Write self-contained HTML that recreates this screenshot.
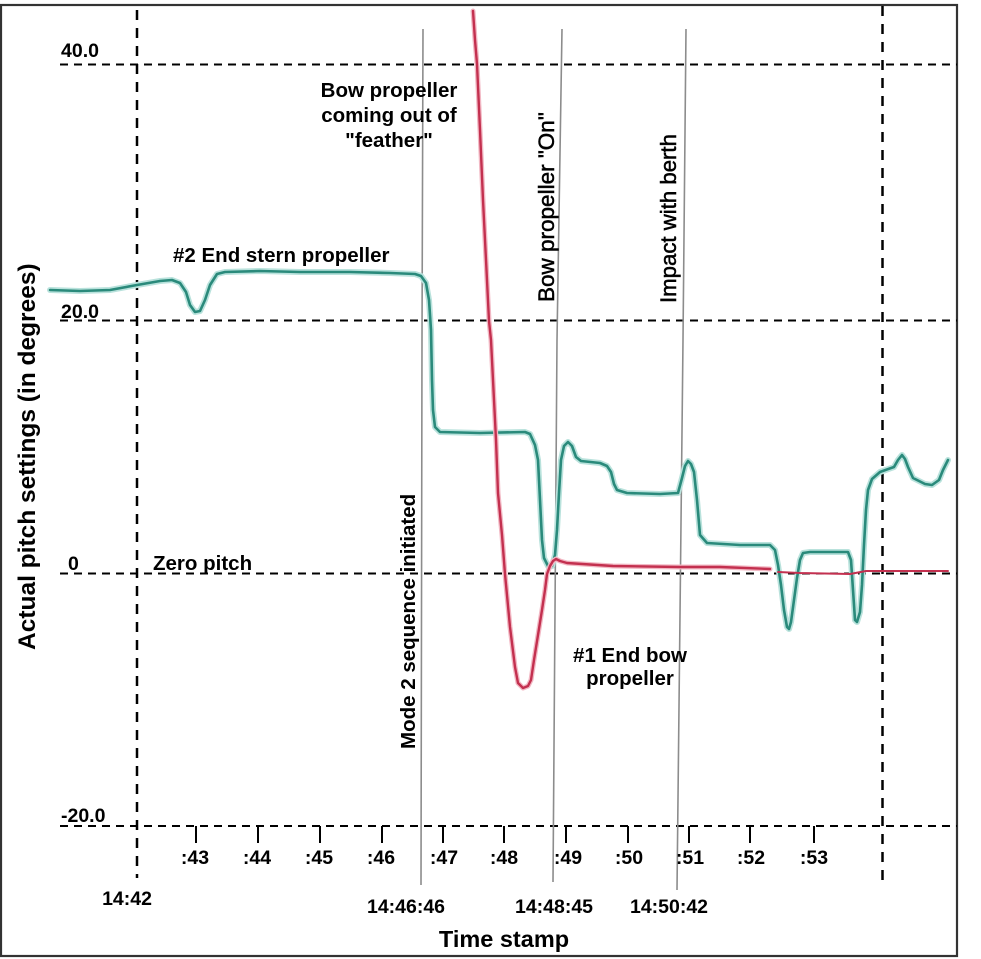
<!DOCTYPE html>
<html>
<head>
<meta charset="utf-8">
<style>
  html, body { margin:0; padding:0; background:#fff; }
  svg { display:block; }
  text { font-family: "Liberation Sans", Arial, sans-serif; fill:#000; }
  .b { font-weight:bold; }
</style>
</head>
<body>
<svg width="981" height="959" viewBox="0 0 981 959" xmlns="http://www.w3.org/2000/svg">
  <rect x="0" y="0" width="981" height="959" fill="#fff"/>
  <!-- border -->
  <rect x="1" y="5" width="956" height="951" fill="none" stroke="#333" stroke-width="2.2"/>

  <!-- horizontal dashed grid -->
  <g stroke="#000" stroke-width="2" stroke-dasharray="8 6" fill="none">
    <line x1="60" y1="64.5" x2="957" y2="64.5"/>
    <line x1="60" y1="320.5" x2="957" y2="320.5"/>
    <line x1="60" y1="573.5" x2="957" y2="573.5"/>
    <line x1="60" y1="826" x2="957" y2="826"/>
  </g>
  <!-- vertical dashed -->
  <g stroke="#000" stroke-width="2.5" stroke-dasharray="10 8" fill="none">
    <line x1="137" y1="10" x2="137" y2="878"/>
    <line x1="882.5" y1="6" x2="882.5" y2="888"/>
  </g>

  <!-- ticks -->
  <g stroke="#000" stroke-width="2">
    <line x1="196" y1="826" x2="196" y2="843"/>
    <line x1="258" y1="826" x2="258" y2="843"/>
    <line x1="320" y1="826" x2="320" y2="843"/>
    <line x1="382" y1="826" x2="382" y2="843"/>
    <line x1="443" y1="826" x2="443" y2="843"/>
    <line x1="504" y1="826" x2="504" y2="843"/>
    <line x1="566" y1="826" x2="566" y2="843"/>
    <line x1="628" y1="826" x2="628" y2="843"/>
    <line x1="689" y1="826" x2="689" y2="843"/>
    <line x1="750" y1="826" x2="750" y2="843"/>
    <line x1="814" y1="826" x2="814" y2="843"/>
  </g>

  <!-- gray event lines -->
  <g stroke="#8c8c8c" stroke-width="1.6" fill="none">
    <polyline points="423,29 422,340 421,885"/>
    <polyline points="562,29 557,340 553,882"/>
    <polyline points="686,29 683,340 677,890"/>
  </g>

  <!-- teal series (#2 stern) -->
  <g fill="none" stroke-linejoin="round" stroke-linecap="round">
    <polyline stroke="#b9e2dc" stroke-width="6" points="50,290 80,291 110,290 137,285 160,281 172,280 180,283 186,292 190,305 195,312 200,311 205,300 210,285 217,274 225,272 260,271 300,272 350,272 390,273 415,274 421,276 426,283 429,300 431,330 432,380 433,410 435,427 440,432 480,433 525,432 530,434 535,445 538,460 540,500 542,540 544,558 548,566 552,566 555,555 557,530 559,493 561,460 564,446 568,442 572,446 576,457 581,461 600,463 607,466 611,472 614,484 617,490 627,493 660,494 678,493 682,478 685,466 688,461 691,464 694,472 697,500 700,535 707,543 740,545 770,545 775,550 778,565 781,585 784,610 787,627 789,629 791,622 794,600 797,578 800,560 803,553 810,552 848,552 851,560 853,590 855,620 857,622 860,612 862,585 864,545 866,510 868,490 872,479 880,472 894,467 898,460 902,455 905,459 908,467 913,478 925,484 932,485 939,480 943,470 948,460"/>
    <polyline stroke="#2a8a7b" stroke-width="2.6" points="50,290 80,291 110,290 137,285 160,281 172,280 180,283 186,292 190,305 195,312 200,311 205,300 210,285 217,274 225,272 260,271 300,272 350,272 390,273 415,274 421,276 426,283 429,300 431,330 432,380 433,410 435,427 440,432 480,433 525,432 530,434 535,445 538,460 540,500 542,540 544,558 548,566 552,566 555,555 557,530 559,493 561,460 564,446 568,442 572,446 576,457 581,461 600,463 607,466 611,472 614,484 617,490 627,493 660,494 678,493 682,478 685,466 688,461 691,464 694,472 697,500 700,535 707,543 740,545 770,545 775,550 778,565 781,585 784,610 787,627 789,629 791,622 794,600 797,578 800,560 803,553 810,552 848,552 851,560 853,590 855,620 857,622 860,612 862,585 864,545 866,510 868,490 872,479 880,472 894,467 898,460 902,455 905,459 908,467 913,478 925,484 932,485 939,480 943,470 948,460"/>
  </g>

  <!-- red series (#1 bow) -->
  <g fill="none" stroke-linejoin="round" stroke-linecap="round">
    <polyline stroke="#f2b8c4" stroke-width="5" points="473,11 475,40 477,64 480,130 483,200 486,260 489,321 491,340 493,380 496,440 498,493 502,535 505,574 510,627 515,667 518,683 523,688 528,686 531,680 534,660 538,635 542,610 545,590 547,574 550,566 553,561 556,559 560,561 567,563 613,566 680,567 720,567 770,569"/>
    <polyline stroke="#c3304f" stroke-width="2.4" points="473,11 475,40 477,64 480,130 483,200 486,260 489,321 491,340 493,380 496,440 498,493 502,535 505,574 510,627 515,667 518,683 523,688 528,686 531,680 534,660 538,635 542,610 545,590 547,574 550,566 553,561 556,559 560,561 567,563 613,566 680,567 720,567 770,569"/>
    <polyline stroke="#c3304f" stroke-width="2" points="778,572 800,573 850,574 866,571 900,571 948,571"/>
  </g>

  <!-- y tick labels -->
  <text class="b" x="61" y="57" font-size="19.5">40.0</text>
  <text class="b" x="61" y="318" font-size="19.5">20.0</text>
  <text class="b" x="68" y="570" font-size="19.5">0</text>
  <text class="b" x="61" y="822" font-size="19.5">-20.0</text>

  <!-- x tick labels -->
  <g class="b" font-size="19.5" text-anchor="middle">
    <text x="195" y="864">:43</text>
    <text x="257" y="864">:44</text>
    <text x="319" y="864">:45</text>
    <text x="381" y="864">:46</text>
    <text x="444" y="864">:47</text>
    <text x="504" y="864">:48</text>
    <text x="568" y="864">:49</text>
    <text x="629" y="864">:50</text>
    <text x="690" y="864">:51</text>
    <text x="751" y="864">:52</text>
    <text x="814" y="864">:53</text>
    <text x="127" y="905">14:42</text>
    <text x="406" y="913">14:46:46</text>
    <text x="554" y="913">14:48:45</text>
    <text x="669" y="913">14:50:42</text>
  </g>

  <!-- axis titles -->
  <text class="b" x="504" y="947" font-size="23.5" text-anchor="middle">Time stamp</text>
  <text class="b" font-size="24.5" transform="translate(35,650) rotate(-90)">Actual pitch settings (in degrees)</text>

  <!-- annotations -->
  <g class="b" font-size="20.5" text-anchor="middle">
    <text x="389" y="97">Bow propeller</text>
    <text x="389" y="122">coming out of</text>
    <text x="389" y="147">"feather"</text>
    <text x="630" y="662">#1 End bow</text>
    <text x="630" y="685">propeller</text>
  </g>
  <text class="b" x="173" y="262" font-size="20.5">#2 End stern propeller</text>
  <text class="b" x="153" y="570" font-size="20.5">Zero pitch</text>

  <text class="b" font-size="20.5" transform="translate(415,749) rotate(-90)">Mode 2 sequence initiated</text>
  <text font-size="22.5" stroke="#000" stroke-width="0.5" transform="translate(554,302) rotate(-90)">Bow propeller "On"</text>
  <text font-size="22.2" stroke="#000" stroke-width="0.5" transform="translate(676,303) rotate(-90)">Impact with berth</text>
</svg>
</body>
</html>
